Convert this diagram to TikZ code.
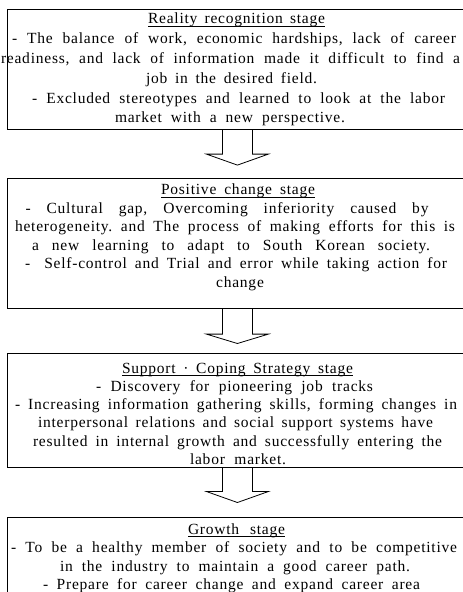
\documentclass[tikz,border=0pt]{standalone}
\usepackage{fontspec}
\setmainfont{Liberation Serif}[LetterSpace=5.0,Ligatures=CommonOff]
\usetikzlibrary{calc}
% one text line, forced to width #2 (bp), its centre shifted by #1/2 (bp)
\newcommand\tline[3]{\makebox[0pt]{\hspace*{#1bp}\hbox to #2bp{\frenchspacing\spaceskip=.3em plus 1fil minus .15em\relax\hskip0pt plus .001fil\relax #3\hskip0pt plus .001fil\relax}}}
\newcommand\ttl[3]{\tline{#1}{#2}{\rlap{\rule[-3.2bp]{#2bp}{0.8bp}}#3}}
\tikzset{
  stagebox/.style={draw=black, line width=0.8bp, rectangle, inner sep=0pt, anchor=north west, minimum width=461bp},
  txt/.style={inner sep=0pt, align=center, anchor=base, text=black},
  arrowline/.style={draw=black, line width=0.8bp, line join=miter},
}
\newcommand\blockarrow[3]{\draw[arrowline] (#1) ++(-15,0) -- ++(0,#2) -- ++(-16,0) -- ++(31,#3) -- ++(31,-#3) -- ++(-16,0) -- ++(0,-#2);}
\begin{document}
\begin{tikzpicture}[x=1bp,y=-1bp]
\useasboundingbox (0,0) rectangle (463,592);
\clip (0,0) rectangle (463,592);
\fill[white] (0,0) rectangle (463,592);

\node[stagebox, minimum height=119.5bp] (b1) at (6.5,9.5) {};
\node[stagebox, minimum height=130.6bp] (b2) at (6.5,177.7) {};
\node[stagebox, minimum height=114bp] (b3) at (6.5,353.3) {};
\node[stagebox, minimum height=110bp] (b4) at (6.5,516.7) {};

% anchor base = baseline of the last line
\node[txt, font=\fontsize{15.5bp}{19.9bp}\selectfont] (t1) at (237,123) {%
\ttl{-1}{177}{Reality recognition stage}\\
\tline{-6}{444}{- The balance of work, economic hardships, lack of career}\\
\tline{-13}{459}{readiness, and lack of information made it difficult to find a}\\
\tline{-11}{171}{job in the desired field.}\\
\tline{3}{413}{- Excluded stereotypes and learned to look at the labor}\\
\tline{-14}{230}{market with a new perspective.}};

\node[txt, font=\fontsize{15.5bp}{18.5bp}\selectfont] (t2) at (237,287) {%
\ttl{2}{154}{Positive change stage}\\
\tline{-20}{403}{- Cultural gap, Overcoming inferiority caused by}\\
\tline{-4}{440}{heterogeneity. and The process of making efforts for this is}\\
\tline{-12}{398}{a new learning to adapt to South Korean society.}\\
\tline{-2}{422}{-\hspace{6bp} Self-control and Trial and error while taking action for}\\
\tline{6}{60}{change}};

\node[txt, font=\fontsize{15.5bp}{18.3bp}\selectfont] (t3) at (237,464.5) {%
\ttl{1}{231}{Support · Coping Strategy stage}\\
\tline{-5}{277}{- Discovery for pioneering job tracks}\\
\tline{-2}{442}{- Increasing information gathering skills, forming changes in}\\
\tline{-3}{395}{interpersonal relations and social support systems have}\\
\tline{1}{409}{resulted in internal growth and successfully entering the}\\
\tline{2}{96}{labor market.}};

\node[txt, font=\fontsize{15.5bp}{18.5bp}\selectfont] (t4) at (237,589.5) {%
\ttl{-1}{97}{Growth stage}\\
\tline{-6}{446}{- To be a healthy member of society and to be competitive}\\
\tline{-4}{350}{in the industry to maintain a good career path.}\\
\tline{-11}{377}{- Prepare for career change and expand career area}};

\blockarrow{b1.south}{24.3}{11}
\blockarrow{b2.south}{25}{9.4}
\blockarrow{b3.south}{23.4}{11}
\end{tikzpicture}
\end{document}
